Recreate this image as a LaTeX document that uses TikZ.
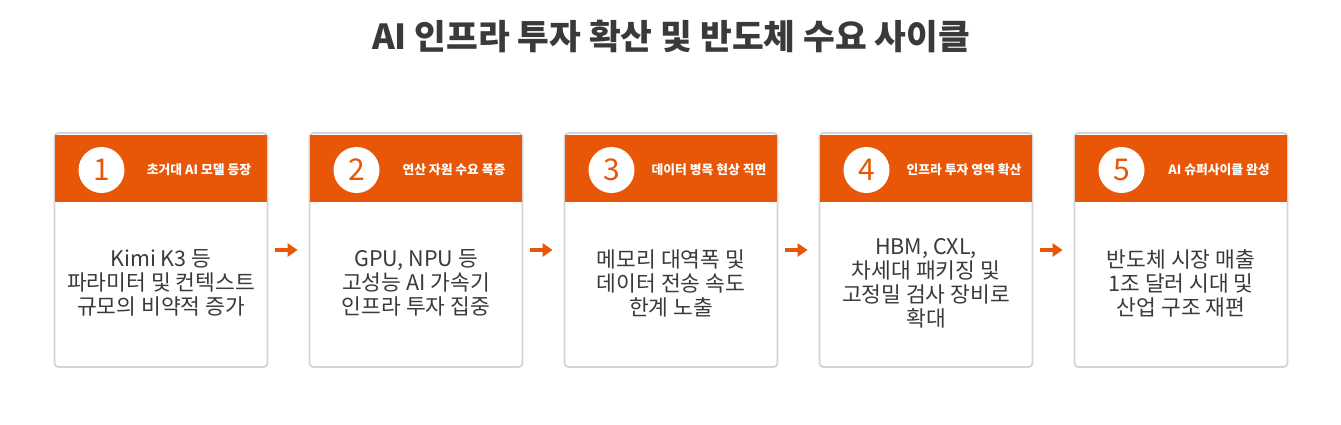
\documentclass[tikz,border=0pt]{standalone}
\usepackage{fontspec}
\usepackage{tikz}
\usepackage{xcolor}
\usetikzlibrary{arrows.meta,positioning,calc}
\setmainfont{Noto Sans CJK KR}
\definecolor{burnt}{RGB}{232,86,8}
\definecolor{charcoal}{RGB}{58,58,58}
\definecolor{rim}{RGB}{212,212,212}

\begin{document}
\begin{tikzpicture}[x=1pt,y=-1pt,
  card/.style={draw=rim, line width=1.8pt, rounded corners=4pt, fill=white, minimum width=213pt, minimum height=234pt, inner sep=0pt},
  band/.style={fill=burnt, minimum width=211.5pt, minimum height=67pt, inner sep=0pt},
  badge/.style={circle, fill=white, minimum size=46pt, inner sep=0pt, text=burnt, font=\fontsize{30}{30}\selectfont},
  tag/.style={text=white, font=\fontsize{12.8}{13}\selectfont\bfseries},
  body/.style={text=charcoal, align=center, font=\fontsize{21.5}{24}\selectfont},
  flow/.style={-{Triangle[length=10pt,width=13pt]}, draw=burnt, line width=3.5pt, shorten <=7pt, shorten >=11pt}]
\useasboundingbox (0,0) rectangle (1341,424);

% Title
\node[text=charcoal, font=\fontsize{34.5}{37}\selectfont\bfseries] (title) at (671,36) {AI 인프라 투자 확산 및 반도체 수요 사이클};

% Step 1
\node[card] (c1) at (161,250) {};
\node[band] (h1) at (161,168.5) {};
\node[badge] (n1) at (101.5,170) {1};
\node[tag] (t1) at (199,170) {초거대 AI 모델 등장};
\node[body] (b1) at (161,283) {Kimi K3 등\\파라미터 및 컨텍스트\\규모의 비약적 증가};

% Step 2
\node[card] (c2) at (416,250) {};
\node[band] (h2) at (416,168.5) {};
\node[badge] (n2) at (356.5,170) {2};
\node[tag] (t2) at (454,170) {연산 자원 수요 폭증};
\node[body] (b2) at (416,283) {GPU, NPU 등\\고성능 AI 가속기\\인프라 투자 집중};

% Step 3
\node[card] (c3) at (671,250) {};
\node[band] (h3) at (671,168.5) {};
\node[badge] (n3) at (611.5,170) {3};
\node[tag] (t3) at (709,170) {데이터 병목 현상 직면};
\node[body] (b3) at (671,283) {메모리 대역폭 및\\데이터 전송 속도\\한계 노출};

% Step 4
\node[card] (c4) at (926,250) {};
\node[band] (h4) at (926,168.5) {};
\node[badge] (n4) at (866.5,170) {4};
\node[tag] (t4) at (964,170) {인프라 투자 영역 확산};
\node[body] (b4) at (926,283) {HBM, CXL,\\차세대 패키징 및\\고정밀 검사 장비로\\확대};

% Step 5
\node[card] (c5) at (1181,250) {};
\node[band] (h5) at (1181,168.5) {};
\node[badge] (n5) at (1121.5,170) {5};
\node[tag] (t5) at (1219,170) {AI 슈퍼사이클 완성};
\node[body] (b5) at (1181,283) {반도체 시장 매출\\1조 달러 시대 및\\산업 구조 재편};

% Flow
\draw[flow] (c1) -- (c2);
\draw[flow] (c2) -- (c3);
\draw[flow] (c3) -- (c4);
\draw[flow] (c4) -- (c5);
\end{tikzpicture}
\end{document}
